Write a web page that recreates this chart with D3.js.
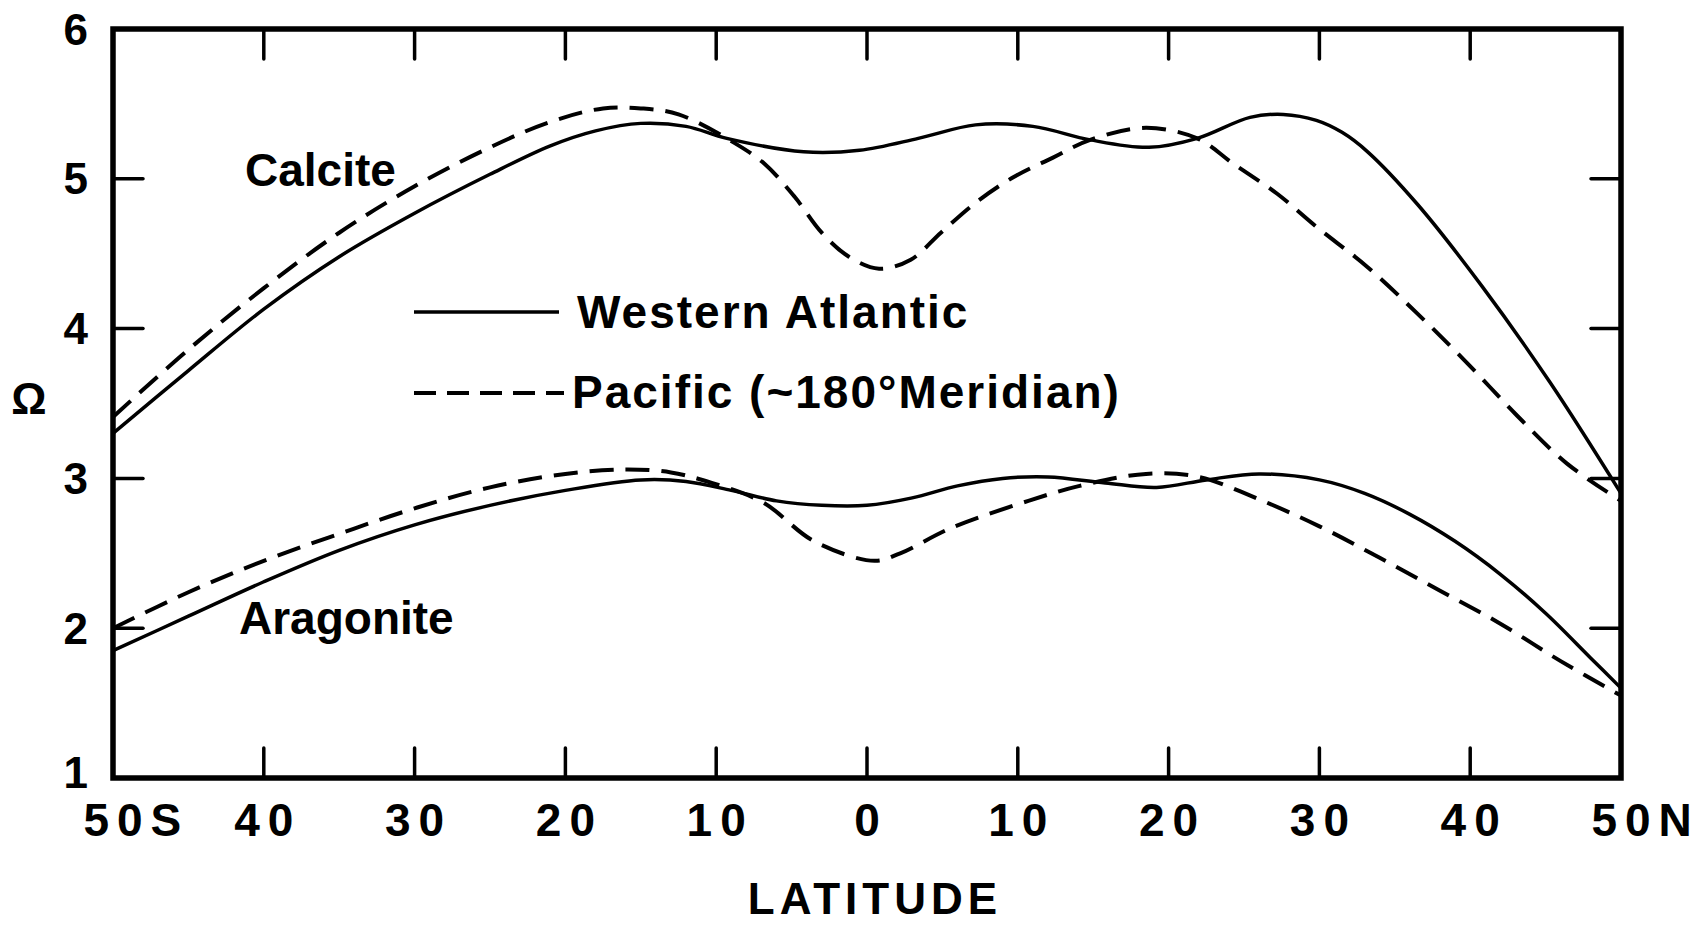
<!DOCTYPE html>
<meta charset="utf-8">
<head>
  <title>Calcite and aragonite saturation vs latitude</title>
</head>

<style>
body { margin: 0; background: #fff; }
text {
  font-family: "Liberation Sans", Arial, sans-serif;
  font-weight: bold;
  fill: #000;
}
.frame { fill: none; stroke: #000; stroke-width: 5.5; }
.tick { stroke: #000; stroke-width: 3.5; stroke-linecap: round; }
.curve { fill: none; stroke: #000; stroke-width: 3.5; stroke-linejoin: round; }
.dashed { stroke-width: 4; stroke-dasharray: 24 12; }
</style>

<body>
  <svg width="1707" height="925"></svg>

  <script src="https://cdnjs.cloudflare.com/ajax/libs/d3/7.8.5/d3.min.js"></script>
  <script>
// axis ticks
var latTicks = [-50, -40, -30, -20, -10, 0, 10, 20, 30, 40, 50];
var latLabels = ["50S", "40", "30", "20", "10", "0", "10", "20", "30", "40", "50N"];
var omegaTicks = [1, 2, 3, 4, 5, 6];

// calcite, western atlantic (solid)
var calAtlLat = [-50, -45, -40, -35, -30, -25, -21, -18, -15, -12, -9.3, -4.2, -0.5, 3.4, 7.2, 11, 14.8, 18.7, 21.9, 25.4, 27.6, 29.8, 31.5, 33.2, 36.5, 40.8, 45.3, 50];
var calAtlVal = [3.30, 3.72, 4.13, 4.48, 4.77, 5.03, 5.22, 5.32, 5.37, 5.35, 5.27, 5.18, 5.19, 5.27, 5.36, 5.35, 5.26, 5.21, 5.27, 5.41, 5.43, 5.39, 5.31, 5.18, 4.83, 4.28, 3.64, 2.90];

// calcite, pacific (dashed)
var calPacLat = [-50, -45, -40, -35, -30, -25, -21, -17.5, -15, -12.5, -8.8, -6.8, -4.8, -3.0, -1.2, 0.8, 2.9, 4.9, 7.2, 9.7, 12.3, 14.8, 18.5, 21.9, 24.3, 27.2, 29.8, 33.2, 36.5, 39.8, 43.1, 46.4, 50];
var calPacVal = [3.41, 3.86, 4.27, 4.64, 4.95, 5.21, 5.38, 5.47, 5.47, 5.43, 5.24, 5.10, 4.88, 4.64, 4.48, 4.40, 4.46, 4.64, 4.84, 5.01, 5.14, 5.26, 5.34, 5.27, 5.10, 4.90, 4.68, 4.41, 4.10, 3.77, 3.42, 3.10, 2.85];

// aragonite, western atlantic (solid)
var araAtlLat = [-50, -45, -40, -35, -30, -25, -20, -15, -12, -9, -6, -3, 0, 3, 6, 9, 12, 15.8, 19.2, 22.5, 26, 30, 33, 36, 39, 42, 45, 48, 50];
var araAtlVal = [1.85, 2.08, 2.31, 2.52, 2.69, 2.82, 2.92, 2.99, 2.98, 2.92, 2.85, 2.82, 2.82, 2.87, 2.95, 3.00, 3.01, 2.97, 2.94, 2.99, 3.03, 2.99, 2.90, 2.76, 2.58, 2.36, 2.10, 1.80, 1.60];

// aragonite, pacific (dashed)
var araPacLat = [-50, -45, -40, -35, -30, -25, -20, -16, -13, -10.3, -6.9, -3.5, 0.5, 2.2, 5.6, 10.7, 14.1, 18.5, 22, 26, 30, 34, 38, 42, 46, 50];
var araPacVal = [2.00, 2.24, 2.45, 2.63, 2.80, 2.94, 3.03, 3.06, 3.04, 2.97, 2.84, 2.58, 2.45, 2.50, 2.67, 2.85, 2.95, 3.03, 3.01, 2.86, 2.68, 2.47, 2.25, 2.03, 1.78, 1.55];

var svg = d3.select('svg');

var x = d3.scaleLinear().domain([-50, 50]).range([113, 1621]);
var y = d3.scaleLinear().domain([1, 6]).range([778, 29]);
var tickLen = 30;

// frame
svg.append('rect')
  .attr('class', 'frame')
  .attr('x', x(-50))
  .attr('y', y(6))
  .attr('width', x(50) - x(-50))
  .attr('height', y(1) - y(6));

// inward ticks, top and bottom
var inner = latTicks.slice(1, -1);
svg.selectAll('.xtb').data(inner).enter().append('line')
  .attr('class', 'tick')
  .attr('x1', d => x(d)).attr('x2', d => x(d))
  .attr('y1', y(1)).attr('y2', y(1) - tickLen);
svg.selectAll('.xtt').data(inner).enter().append('line')
  .attr('class', 'tick')
  .attr('x1', d => x(d)).attr('x2', d => x(d))
  .attr('y1', y(6)).attr('y2', y(6) + tickLen);

var innerY = omegaTicks.slice(1, -1);
svg.selectAll('.ytl').data(innerY).enter().append('line')
  .attr('class', 'tick')
  .attr('x1', x(-50)).attr('x2', x(-50) + tickLen)
  .attr('y1', d => y(d)).attr('y2', d => y(d));
svg.selectAll('.ytr').data(innerY).enter().append('line')
  .attr('class', 'tick')
  .attr('x1', x(50)).attr('x2', x(50) - tickLen)
  .attr('y1', d => y(d)).attr('y2', d => y(d));

// x tick labels, the number part sits on the tick
var ls = 8;
svg.selectAll('.xl').data(latTicks).enter().append('text')
  .attr('font-size', 46)
  .attr('letter-spacing', ls)
  .attr('y', 836)
  .text((d, i) => latLabels[i])
  .each(function(d) {
    var n = String(Math.abs(d)).length;
    var w = this.getSubStringLength(0, n) - ls;
    d3.select(this).attr('x', x(d) - w / 2);
  });

// y tick labels
svg.selectAll('.yl').data(omegaTicks).enter().append('text')
  .attr('font-size', 44)
  .attr('text-anchor', 'end')
  .attr('dominant-baseline', 'central')
  .attr('x', x(-50) - 25)
  .attr('y', d => y(d) + (d === 1 ? -6 : 0))
  .text(d => d);

// axis titles
svg.append('text')
  .attr('font-size', 44)
  .attr('text-anchor', 'middle')
  .attr('dominant-baseline', 'central')
  .attr('x', 29).attr('y', 398)
  .text('\u03A9');

svg.append('text')
  .attr('font-size', 44)
  .attr('letter-spacing', 5)
  .attr('text-anchor', 'middle')
  .attr('x', x(0) + 8).attr('y', 914)
  .text('LATITUDE');

// curves
var line = d3.line()
  .x(d => x(d[0]))
  .y(d => y(d[1]))
  .curve(d3.curveCatmullRom.alpha(0.5));

var series = [
  {lat: calAtlLat, val: calAtlVal, dashed: false},
  {lat: calPacLat, val: calPacVal, dashed: true},
  {lat: araAtlLat, val: araAtlVal, dashed: false},
  {lat: araPacLat, val: araPacVal, dashed: true}
];

svg.selectAll('.curve').data(series).enter().append('path')
  .attr('class', d => d.dashed ? 'curve dashed' : 'curve')
  .attr('d', d => line(d.lat.map((v, i) => [v, d.val[i]])));

// curve names
svg.append('text').attr('font-size', 46).attr('x', 245).attr('y', 186).text('Calcite');
svg.append('text').attr('font-size', 46).attr('x', 239).attr('y', 634).text('Aragonite');

// legend
svg.append('line').attr('class', 'curve')
  .attr('x1', 414).attr('x2', 559).attr('y1', 312).attr('y2', 312);
svg.append('text').attr('font-size', 46).attr('letter-spacing', 2)
  .attr('x', 577).attr('y', 328).text('Western Atlantic');

svg.append('line').attr('class', 'curve dashed')
  .attr('x1', 414).attr('x2', 564).attr('y1', 393).attr('y2', 393)
  .style('stroke-dasharray', '22 11');
svg.append('text').attr('font-size', 46).attr('letter-spacing', 2)
  .attr('x', 572).attr('y', 408).text('Pacific (~180\u00B0Meridian)');
  </script>
</body>
</html>
